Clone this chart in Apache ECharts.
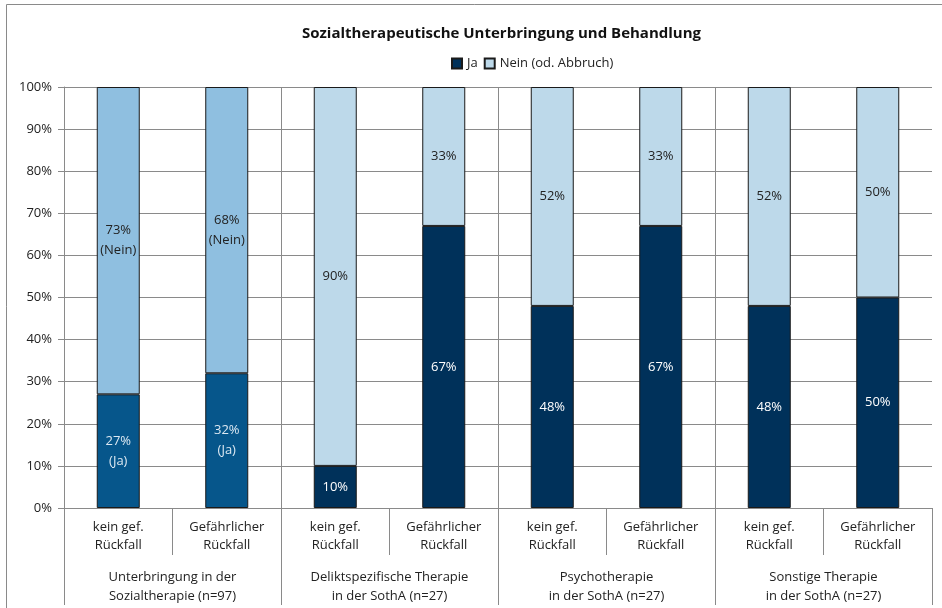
<!DOCTYPE html>
<html>
<head>
<meta charset="utf-8">
<script src="https://cdn.jsdelivr.net/npm/echarts@6/dist/echarts.min.js"></script>
<style>
  html, body { margin: 0; padding: 0; background: #fff; }
  #chart { width: 942px; height: 608px; }
</style>
</head>
<body>
<div id="chart"></div>
<script>
  var subCats = ['kein gef.\nRückfall', 'Gefährlicher\nRückfall',
    'kein gef.\nRückfall', 'Gefährlicher\nRückfall',
    'kein gef.\nRückfall', 'Gefährlicher\nRückfall',
    'kein gef.\nRückfall', 'Gefährlicher\nRückfall']
  var groups = ['Unterbringung in der\nSozialtherapie (n=97)',
    'Deliktspezifische Therapie\nin der SothA (n=27)',
    'Psychotherapie\nin der SothA (n=27)',
    'Sonstige Therapie\nin der SothA (n=27)']
  var jaData = [27, 32, 10, 67, 48, 67, 48, 50]
  var neinData = [73, 68, 90, 33, 52, 33, 52, 50]
  var groupLines = [1, 2, 3]

  var font = '"Open Sans", "Noto Sans", sans-serif'
  var gridColor = '#8a8a8a'

  // erste Gruppe hat andere Farben
  function jaItems() {
    return jaData.map(function (v, i) {
      return {
        value: v,
        itemStyle: { color: i < 2 ? '#06568b' : '#00315a' },
        label: i < 2 ? { formatter: '{c}%\n(Ja)', color: '#dce8f2' } : { formatter: '{c}%' }
      }
    })
  }
  function neinItems() {
    return neinData.map(function (v, i) {
      return {
        value: v,
        itemStyle: { color: i < 2 ? '#8fbfe0' : '#bdd9ea' },
        label: i < 2 ? { formatter: '{c}%\n(Nein)' } : { formatter: '{c}%' }
      }
    })
  }

  var myChart = echarts.init(document.getElementById('chart'))
  var option = {
    backgroundColor: '#fff',
    animation: false,
    graphic: [{
      type: 'rect',
      shape: { x: 6.5, y: 4.5, width: 1000, height: 700 },
      style: { fill: 'none', stroke: '#8a8a8a', lineWidth: 1 },
      silent: true
    }],
    title: {
      text: 'Sozialtherapeutische Unterbringung und Behandlung',
      left: 297, top: 21,
      textStyle: { fontFamily: font, fontSize: 15, fontWeight: 'bold', color: '#111' }
    },
    legend: {
      data: [
        { name: 'Ja', itemStyle: { color: '#00315a' } },
        { name: 'Nein (od. Abbruch)', itemStyle: { color: '#bdd9ea' } }
      ],
      left: 446, top: 52,
      itemWidth: 10, itemHeight: 10, itemGap: 6,
      icon: 'rect',
      textStyle: { fontFamily: font, fontSize: 13, color: '#222' }
    },
    grid: { left: 64, right: 10, top: 87, bottom: 100 },
    xAxis: [{
      type: 'category',
      data: subCats,
      axisLine: { show: true, lineStyle: { color: gridColor } },
      axisTick: { show: true, interval: 0, length: 47, lineStyle: { color: gridColor } },
      axisLabel: { interval: 0, margin: 10, fontFamily: font, fontSize: 13, lineHeight: 18, color: '#222' }
    }, {
      type: 'category',
      data: groups,
      position: 'bottom',
      axisLine: { show: false },
      axisTick: { show: true, interval: 0, length: 97, lineStyle: { color: gridColor } },
      axisLabel: { interval: 0, margin: 60, fontFamily: font, fontSize: 13, lineHeight: 19, color: '#222' }
    }, {
      type: 'value', min: 0, max: 4, show: false
    }],
    yAxis: {
      type: 'value',
      min: 0, max: 100, interval: 10,
      axisLine: { show: true, lineStyle: { color: gridColor } },
      axisTick: { show: true, length: 6, lineStyle: { color: gridColor } },
      axisLabel: { formatter: '{value}%', margin: 12, fontFamily: font, fontSize: 13, color: '#222' },
      splitLine: { show: true, lineStyle: { color: gridColor } }
    },
    series: [{
      name: 'Ja',
      type: 'bar',
      stack: 'total',
      barWidth: 43,
      data: jaItems(),
      itemStyle: { borderColor: '#1a1a1a', borderWidth: 1 },
      label: { show: true, position: 'inside', color: '#fff', fontFamily: font, fontSize: 13, lineHeight: 20 }
    }, {
      name: 'Nein (od. Abbruch)',
      type: 'bar',
      stack: 'total',
      barWidth: 43,
      data: neinItems(),
      itemStyle: { borderColor: '#1a1a1a', borderWidth: 1 },
      label: { show: true, position: 'inside', color: '#222', fontFamily: font, fontSize: 13, lineHeight: 20 }
    }, {
      name: 'groupLines',
      type: 'line',
      xAxisIndex: 2,
      data: [],
      silent: true,
      markLine: {
        symbol: 'none',
        silent: true,
        label: { show: false },
        lineStyle: { color: gridColor, type: 'solid', width: 1 },
        data: groupLines.map(function (g) { return { xAxis: g } })
      }
    }]
  }
  myChart.setOption(option)
</script>
</body>
</html>
